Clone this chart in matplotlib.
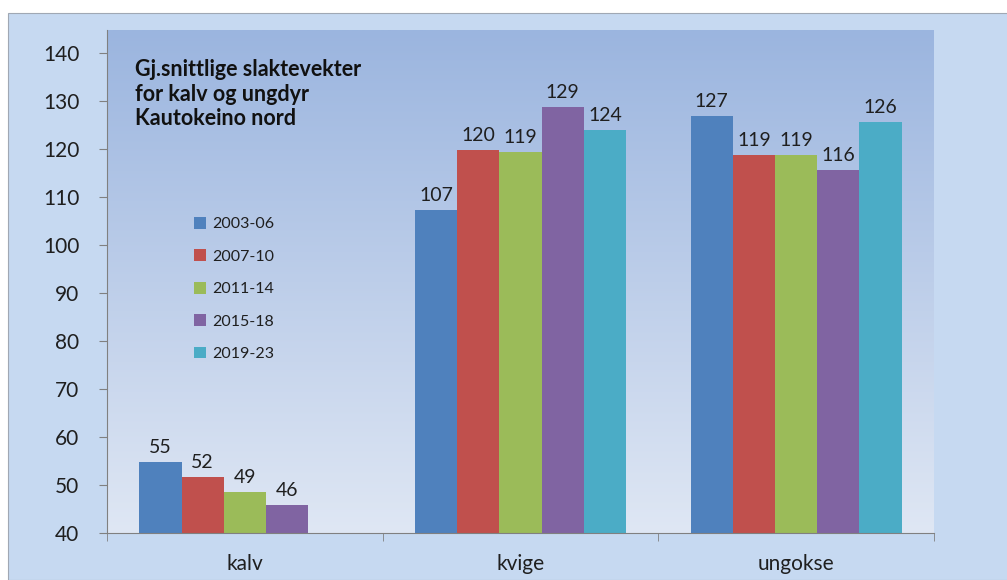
import numpy as np
import matplotlib.pyplot as plt
from matplotlib.patches import Rectangle
from matplotlib.colors import LinearSegmentedColormap

plt.rcParams['font.family'] = ['Lato', 'DejaVu Sans']

# Data
categories = ['kalv', 'kvige', 'ungokse']
periods = ['2003-06', '2007-10', '2011-14', '2015-18', '2019-23']
values = {
    '2003-06': [54.8, 107.3, 126.9],
    '2007-10': [51.6, 119.8, 118.8],
    '2011-14': [48.6, 119.3, 118.8],
    '2015-18': [45.9, 128.8, 115.6],
    '2019-23': [None, 123.9, 125.6],
}
colors = ['#4f81bd', '#c0504d', '#9bbb59', '#8064a2', '#4bacc6']

fig = plt.figure(figsize=(10.07, 5.8), dpi=100)
fig.patch.set_facecolor('white')
# chart area background
fig.patches.append(Rectangle((8 / 1007, 0), 1, (580 - 13) / 580, transform=fig.transFigure,
                             facecolor='#c6d9f1', edgecolor='#a0a8b4', linewidth=0.8, zorder=-5))

ax = fig.add_axes([107 / 1007, 47 / 580, 827 / 1007, 503 / 580])
ax.set_zorder(1)
ax.set_xlim(-0.5, 2.5)
ax.set_ylim(40, 144.8)

# gradient plot area
grad = LinearSegmentedColormap.from_list('g', ['#dfe7f4', '#9bb5df'])
ax.imshow(np.linspace(0, 1, 256).reshape(-1, 1), cmap=grad, origin='lower', aspect='auto',
          extent=[-0.5, 2.5, 40, 144.8], zorder=0)

x = np.arange(len(categories))
width = 0.153
for i, p in enumerate(periods):
    xs = x + (i - 2) * width
    for xi, v in zip(xs, values[p]):
        if v is None:
            continue
        ax.bar(xi, v - 40, width, bottom=40, color=colors[i], zorder=2)
        ax.annotate(f'{v:.0f}', (xi, v), xytext=(0, 6), textcoords='offset pixels',
                    ha='center', va='bottom', fontsize=14, color='#1f1f1f')
    ax.bar(0, 0, 0, bottom=40, color=colors[i], label=p)

ax.set_yticks(range(40, 141, 10))
ax.set_xticks(x)
ax.set_xticklabels(categories)
ax.set_xticks([-0.5, 0.5, 1.5, 2.5], minor=True)
ax.tick_params(axis='x', which='major', length=0, pad=15, labelsize=15, labelcolor='#1f1f1f')
ax.tick_params(axis='x', which='minor', length=6, color='#808080', direction='out')
ax.tick_params(axis='y', length=6, color='#808080', labelsize=15, labelcolor='#1f1f1f', pad=14)

for s in ['top', 'right']:
    ax.spines[s].set_visible(False)
for s in ['left', 'bottom']:
    ax.spines[s].set_color('#808080')
    ax.spines[s].set_zorder(3)

ax.text(0.034, 0.942, 'Gj.snittlige slaktevekter\nfor kalv og ungdyr\nKautokeino nord',
        transform=ax.transAxes, ha='left', va='top', fontsize=15.5, fontweight='bold',
        color='#111111', linespacing=1.2)

ax.legend(loc='upper left', bbox_to_anchor=(0.088, 0.657), frameon=False, fontsize=11.5,
          handlelength=0.75, handleheight=0.75, handletextpad=0.4, labelspacing=1.13,
          labelcolor='#1f1f1f')

fig.savefig('out.png', dpi=100)
